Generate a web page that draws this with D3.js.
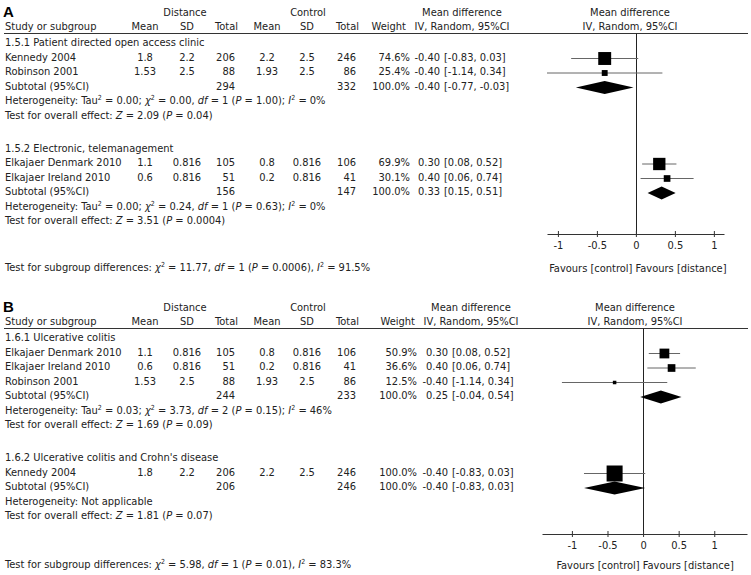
<!DOCTYPE html>
<html>

<head>
    <meta http-equiv="Content-Type" content="text/html;" charset="utf-8">
    <script type="text/javascript" src="https://cdnjs.cloudflare.com/ajax/libs/d3/7.8.5/d3.min.js"></script>
    <style>
        body { margin: 0; background: #fff; }
        text { font-family: "DejaVu Sans", sans-serif; font-stretch: condensed; font-size: 11px; fill: #222; }
    </style>
</head>

<body>
    <div class="chart-div"></div>
    <script type="text/javascript">

        //--------------------------------------------DATA

        var tickValues = [-1, -0.5, 0, 0.5, 1];

        var groupNamesA = ["1.5.1 Patient directed open access clinic", "1.5.2 Electronic, telemanagement"];
        var groupNamesB = ["1.6.1 Ulcerative colitis", "1.6.2 Ulcerative colitis and Crohn's disease"];

        // name, distance mean/sd/total, control mean/sd/total, weight, md [lo, hi]
        var studiesA1 = [
            { name: "Kennedy 2004", m1: 1.8, sd1: 2.2, n1: 206, m2: 2.2, sd2: 2.5, n2: 246, w: 74.6, md: -0.40, lo: -0.83, hi: 0.03 },
            { name: "Robinson 2001", m1: 1.53, sd1: 2.5, n1: 88, m2: 1.93, sd2: 2.5, n2: 86, w: 25.4, md: -0.40, lo: -1.14, hi: 0.34 }
        ];
        var studiesA2 = [
            { name: "Elkajaer Denmark 2010", m1: 1.1, sd1: 0.816, n1: 105, m2: 0.8, sd2: 0.816, n2: 106, w: 69.9, md: 0.30, lo: 0.08, hi: 0.52 },
            { name: "Elkajaer Ireland 2010", m1: 0.6, sd1: 0.816, n1: 51, m2: 0.2, sd2: 0.816, n2: 41, w: 30.1, md: 0.40, lo: 0.06, hi: 0.74 }
        ];
        var studiesB1 = [
            { name: "Elkajaer Denmark 2010", m1: 1.1, sd1: 0.816, n1: 105, m2: 0.8, sd2: 0.816, n2: 106, w: 50.9, md: 0.30, lo: 0.08, hi: 0.52 },
            { name: "Elkajaer Ireland 2010", m1: 0.6, sd1: 0.816, n1: 51, m2: 0.2, sd2: 0.816, n2: 41, w: 36.6, md: 0.40, lo: 0.06, hi: 0.74 },
            { name: "Robinson 2001", m1: 1.53, sd1: 2.5, n1: 88, m2: 1.93, sd2: 2.5, n2: 86, w: 12.5, md: -0.40, lo: -1.14, hi: 0.34 }
        ];
        var studiesB2 = [
            { name: "Kennedy 2004", m1: 1.8, sd1: 2.2, n1: 206, m2: 2.2, sd2: 2.5, n2: 246, w: 100.0, md: -0.40, lo: -0.83, hi: 0.03 }
        ];

        var subtotalsA = [
            { n1: 294, n2: 332, w: 100.0, md: -0.40, lo: -0.77, hi: -0.03 },
            { n1: 156, n2: 147, w: 100.0, md: 0.33, lo: 0.15, hi: 0.51 }
        ];
        var subtotalsB = [
            { n1: 244, n2: 233, w: 100.0, md: 0.25, lo: -0.04, hi: 0.54 },
            { n1: 206, n2: 246, w: 100.0, md: -0.40, lo: -0.83, hi: 0.03 }
        ];

        var heterogeneityA = [
            { tau: 0.00, chi: 0.00, df: 1, p: 1.00, i2: "0" },
            { tau: 0.00, chi: 0.24, df: 1, p: 0.63, i2: "0" }
        ];
        var heterogeneityB = [
            { tau: 0.03, chi: 3.73, df: 2, p: 0.15, i2: "46" },
            null
        ];

        var overallA = [{ z: 2.09, p: "0.04" }, { z: 3.51, p: "0.0004" }];
        var overallB = [{ z: 1.69, p: "0.09" }, { z: 1.81, p: "0.07" }];

        var subgroupTestA = { chi: "11.77", df: 1, p: "0.0006", i2: "91.5" };
        var subgroupTestB = { chi: "5.98", df: 1, p: "0.01", i2: "83.3" };

        //--------------------------------------------CONTAINERS

        var width = 751;
        var height = 575;

        var svg = d3.select("div.chart-div")
            .append("svg")
            .attr("width", width)
            .attr("height", height);

        var boxSize = d3.scalePow().exponent(0.73).domain([0, 100]).range([0, 16]);

        var rowStep = 14.5;

        //--------------------------------------------HELPERS

        function addText(g, x, y, str, anchor) {
            return g.append("text")
                .attr("x", x)
                .attr("y", y + 4)
                .attr("text-anchor", anchor || "start")
                .text(str);
        }

        // parts: [text, style] where style is "i" (italic) or "sup"
        function addRich(g, x, y, parts) {
            var t = g.append("text").attr("x", x).attr("y", y + 4);
            var shift = 0;
            parts.forEach(function (p) {
                var s = t.append("tspan").text(p[0]);
                var target = p[1] == "sup" ? -4 : 0;
                if (target != shift) s.attr("dy", target - shift);
                shift = target;
                if (p[1] == "i") s.style("font-style", "italic");
                if (p[1] == "sup") s.style("font-size", "7px");
            });
            return t;
        }

        function hetParts(h) {
            if (!h) return [["Heterogeneity: Not applicable"]];
            return [["Heterogeneity: Tau"], ["2", "sup"], [" = " + h.tau.toFixed(2) + "; "], ["\u03c7", "i"], ["2", "sup"],
            [" = " + h.chi.toFixed(2) + ", "], ["df", "i"], [" = " + h.df + " ("], ["P", "i"], [" = " + h.p.toFixed(2) + "); "],
            ["I", "i"], ["2", "sup"], [" = " + h.i2 + "%"]];
        }

        function overallParts(o) {
            return [["Test for overall effect: "], ["Z", "i"], [" = " + o.z.toFixed(2) + " ("], ["P", "i"], [" = " + o.p + ")"]];
        }

        function subgroupParts(s) {
            return [["Test for subgroup differences: "], ["\u03c7", "i"], ["2", "sup"], [" = " + s.chi + ", "], ["df", "i"],
            [" = " + s.df + " ("], ["P", "i"], [" = " + s.p + "), "], ["I", "i"], ["2", "sup"], [" = " + s.i2 + "%"]];
        }

        //--------------------------------------------PANEL

        function drawPanel(lay, label, names, studies, subtotals, het, overall, subTest) {
            var g = svg.append("g");
            var top = lay.top;

            var x = d3.scaleLinear().domain(lay.domain).range(lay.range);

            // headers
            g.append("text")
                .attr("x", 3)
                .attr("y", top + 17)
                .style("font-family", "Liberation Sans, Arial, sans-serif")
                .style("font-weight", "bold")
                .style("font-size", "15px")
                .style("fill", "#000")
                .text(label);

            addText(g, 185, top + 12, "Distance", "middle");
            addText(g, 308, top + 12, "Control", "middle");
            addText(g, lay.mdHead, top + 12, "Mean difference", "middle");
            addText(g, lay.plotHead, top + 12, "Mean difference", "middle");

            addText(g, 5, top + 26, "Study or subgroup");
            addText(g, 145, top + 26, "Mean", "middle");
            addText(g, 187, top + 26, "SD", "middle");
            addText(g, 238, top + 26, "Total", "end");
            addText(g, 267, top + 26, "Mean", "middle");
            addText(g, 307, top + 26, "SD", "middle");
            addText(g, 359, top + 26, "Total", "end");
            addText(g, lay.weightHead, top + 26, "Weight", "end");
            addText(g, lay.mdHead, top + 26, "IV, Random, 95%CI", "middle");
            addText(g, lay.plotHead, top + 26, "IV, Random, 95%CI", "middle");

            g.append("line")
                .attr("x1", 4).attr("x2", 748)
                .attr("y1", top + 33.5).attr("y2", top + 33.5)
                .attr("stroke", "#333").attr("stroke-width", 1);

            // zero line
            g.append("line")
                .attr("x1", Math.round(x(0)) + 0.5).attr("x2", Math.round(x(0)) + 0.5)
                .attr("y1", top + 33.5).attr("y2", lay.axisY)
                .attr("stroke", "#222").attr("stroke-width", 1);

            var y = top + 42;

            names.forEach(function (name, gi) {
                addText(g, 5, y, name);
                y += rowStep;

                studies[gi].forEach(function (d) {
                    addText(g, 5, y, d.name);
                    addText(g, 145, y, String(d.m1), "middle");
                    addText(g, 187, y, String(d.sd1), "middle");
                    addText(g, 235, y, String(d.n1), "end");
                    addText(g, 267, y, String(d.m2), "middle");
                    addText(g, 307, y, String(d.sd2), "middle");
                    addText(g, 356, y, String(d.n2), "end");
                    addText(g, lay.weightX, y, d.w.toFixed(1) + "%", "end");
                    addText(g, lay.estX, y, d.md.toFixed(2), "end");
                    addText(g, lay.estX + 4, y, "[" + d.lo.toFixed(2) + ", " + d.hi.toFixed(2) + "]");

                    var my = y + 2;
                    g.append("line")
                        .attr("x1", x(d.lo)).attr("x2", x(d.hi))
                        .attr("y1", my).attr("y2", my)
                        .attr("stroke", "#666").attr("stroke-width", 1);
                    var s = boxSize(d.w);
                    g.append("rect")
                        .attr("x", x(d.md) - s / 2)
                        .attr("y", my - s / 2)
                        .attr("width", s)
                        .attr("height", s)
                        .attr("fill", "#000");
                    y += rowStep;
                });

                var t = subtotals[gi];
                addText(g, 5, y, "Subtotal (95%CI)");
                addText(g, 235, y, String(t.n1), "end");
                addText(g, 356, y, String(t.n2), "end");
                addText(g, lay.weightX, y, t.w.toFixed(1) + "%", "end");
                addText(g, lay.estX, y, t.md.toFixed(2), "end");
                addText(g, lay.estX + 4, y, "[" + t.lo.toFixed(2) + ", " + t.hi.toFixed(2) + "]");

                var dy = y + 2;
                var diamond = d3.line()([[x(t.lo), dy], [x(t.md), dy - 6.5], [x(t.hi), dy], [x(t.md), dy + 6.5]]) + "Z";
                g.append("path").attr("d", diamond).attr("fill", "#000");
                y += rowStep;

                addRich(g, 5, y, hetParts(het[gi]));
                y += rowStep;
                addRich(g, 5, y, overallParts(overall[gi]));
                y += 33;
            });

            // axis
            var axis = d3.axisBottom(x)
                .tickValues(tickValues)
                .tickSizeInner(3)
                .tickSizeOuter(0)
                .tickPadding(4)
                .tickFormat(function (d) { return String(d); });

            var ag = g.append("g")
                .attr("transform", "translate(0," + lay.axisY + ")")
                .call(axis);
            ag.select(".domain").attr("stroke", "#333");
            ag.selectAll(".tick line").attr("y1", -3).attr("y2", 3).attr("stroke", "#333");

            addText(g, x(0) + 2, lay.favY, "Favours [control] Favours [distance]", "middle");
            addRich(g, 5, lay.favY - 1, subgroupParts(subTest));
        }

        drawPanel({ top: 0, domain: [-1.14, 1.13], range: [547, 724], axisY: 234, favY: 268,
                    weightHead: 406, weightX: 410, estX: 440, mdHead: 462, plotHead: 630 },
            "A", groupNamesA, [studiesA1, studiesA2], subtotalsA, heterogeneityA, overallA, subgroupTestA);

        drawPanel({ top: 295, domain: [-1.42, 1.46], range: [542, 747], axisY: 534, favY: 565,
                    weightHead: 415, weightX: 417, estX: 448, mdHead: 471, plotHead: 635 },
            "B", groupNamesB, [studiesB1, studiesB2], subtotalsB, heterogeneityB, overallB, subgroupTestB);

    </script>

</body>

</html>
